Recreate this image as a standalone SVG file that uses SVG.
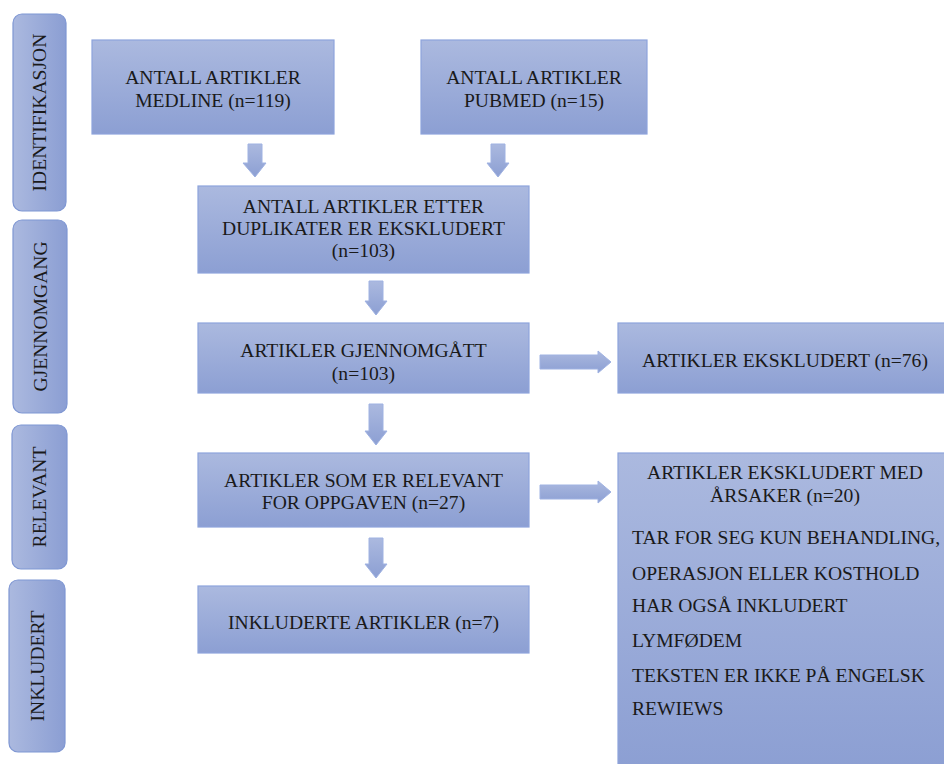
<svg xmlns="http://www.w3.org/2000/svg" width="944" height="764" viewBox="0 0 944 764">
<defs>
<linearGradient id="gv" x1="0" y1="0" x2="0" y2="1"><stop offset="0" stop-color="#abb9df"/><stop offset="1" stop-color="#8c9fd3"/></linearGradient>
<linearGradient id="gh" x1="0" y1="0" x2="1" y2="0"><stop offset="0" stop-color="#abb9df"/><stop offset="1" stop-color="#8b9ed3"/></linearGradient>
<style>
.box{fill:url(#gv);stroke:#8ea4dc;stroke-width:1.2}
.side{fill:url(#gh);stroke:#7f97d3;stroke-width:1.2}
.arr{fill:url(#gv);stroke:#9fb2e2;stroke-width:1}
text{font-family:"Liberation Serif","Times New Roman",serif;font-size:19.6px;fill:#1a1a1a}
.c{text-anchor:middle}
</style>
</defs>
<rect width="944" height="764" fill="#ffffff"/>
<g id="side-identifikasjon"><rect class="side" x="13" y="14" width="53" height="197" rx="9"/><text class="c" transform="translate(46,112.5) rotate(-90)">IDENTIFIKASJON</text></g>
<g id="side-gjennomgang"><rect class="side" x="13" y="220" width="54" height="193" rx="9"/><text class="c" transform="translate(46.5,316.5) rotate(-90)">GJENNOMGANG</text></g>
<g id="side-relevant"><rect class="side" x="12" y="425" width="55" height="144" rx="9"/><text class="c" transform="translate(46,497) rotate(-90)">RELEVANT</text></g>
<g id="side-inkludert"><rect class="side" x="9" y="580" width="56" height="172" rx="9"/><text class="c" transform="translate(43.5,666) rotate(-90)">INKLUDERT</text></g>

<g id="connectors">
<path class="arr" d="M248,144 H262 V163 H266 L255,177 L243,163 H248 Z"/>
<path class="arr" d="M491,144 H505 V163 H509 L498,177 L487,163 H491 Z"/>
<path class="arr" d="M369,281 H383 V301 H387 L376,315 L365,301 H369 Z"/>
<path class="arr" d="M369,404 H383 V431 H387 L376,445 L365,431 H369 Z"/>
<path class="arr" d="M369,538 H383 V564 H387 L376,578 L365,564 H369 Z"/>
<path class="arr" d="M540,355 H598 V351 L611,362 L598,373 V369 H540 Z"/>
<path class="arr" d="M540,485 H598 V481 L611,492 L598,503 V499 H540 Z"/>
</g>

<g id="medline"><rect class="box" x="92" y="40" width="242" height="94"/><text class="c" x="213" y="84">ANTALL ARTIKLER</text><text class="c" x="213" y="107">MEDLINE (n=119)</text></g>
<g id="pubmed"><rect class="box" x="421" y="40" width="226" height="94"/><text class="c" x="534" y="84">ANTALL ARTIKLER</text><text class="c" x="534" y="107">PUBMED (n=15)</text></g>
<g id="duplikater"><rect class="box" x="198" y="186" width="331" height="87"/><text class="c" x="363.5" y="213">ANTALL ARTIKLER ETTER</text><text class="c" x="363.5" y="235">DUPLIKATER ER EKSKLUDERT</text><text class="c" x="363.5" y="257">(n=103)</text></g>
<g id="gjennomgatt"><rect class="box" x="198" y="323" width="331" height="70"/><text class="c" x="363.5" y="357">ARTIKLER GJENNOMGÅTT</text><text class="c" x="363.5" y="380">(n=103)</text></g>
<g id="ekskludert76"><rect class="box" x="618" y="323" width="330" height="70"/><text class="c" x="785" y="367">ARTIKLER EKSKLUDERT (n=76)</text></g>
<g id="relevant"><rect class="box" x="198" y="453" width="331" height="74"/><text class="c" x="363.5" y="487">ARTIKLER SOM ER RELEVANT</text><text class="c" x="363.5" y="509">FOR OPPGAVEN (n=27)</text></g>
<g id="ekskludert20"><rect class="box" x="618" y="453" width="330" height="315"/><text class="c" x="785" y="479">ARTIKLER EKSKLUDERT MED</text><text class="c" x="785" y="502">ÅRSAKER (n=20)</text>
<text x="632" y="544">TAR FOR SEG KUN BEHANDLING,</text>
<text x="632" y="580">OPERASJON ELLER KOSTHOLD</text>
<text x="632" y="612">HAR OGSÅ INKLUDERT</text>
<text x="632" y="647">LYMFØDEM</text>
<text x="632" y="682">TEKSTEN ER IKKE PÅ ENGELSK</text>
<text x="632" y="715">REWIEWS</text></g>
<g id="inkluderte"><rect class="box" x="198" y="586" width="331" height="67"/><text class="c" x="363.5" y="629">INKLUDERTE ARTIKLER (n=7)</text></g>
</svg>
